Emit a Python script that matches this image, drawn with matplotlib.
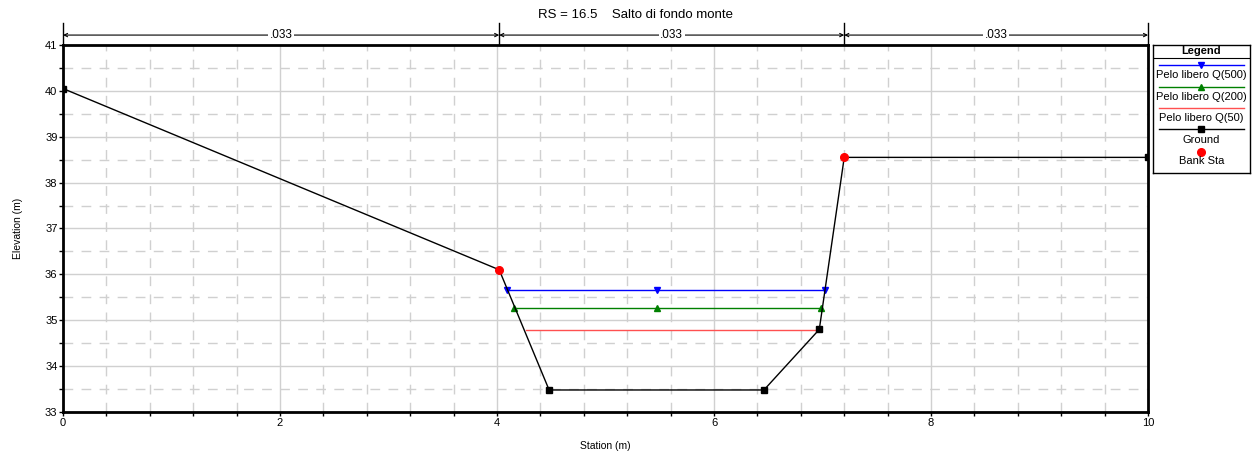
import numpy as np
import matplotlib.pyplot as plt
from matplotlib.lines import Line2D

plt.rcParams['font.family'] = ['Liberation Sans', 'DejaVu Sans']

# ground profile
ground_x = [0, 4.02, 4.48, 6.46, 6.97, 7.2, 10]
ground_y = [40.05, 36.10, 33.48, 33.48, 34.80, 38.55, 38.55]
bank_x = [4.02, 7.2]
bank_y = [36.10, 38.55]

# water surfaces
ws500_x = [4.09, 5.47, 7.02]
ws500_z = 35.67
ws200_x = [4.16, 5.47, 6.99]
ws200_z = 35.26
ws50_x = [4.27, 6.95]
ws50_z = 34.79

# manning n
n_edges = [0, 4.02, 7.2, 10]
n_vals = ['.033', '.033', '.033']

fig = plt.figure(figsize=(12.58, 4.59), dpi=100)
ax = fig.add_axes([0.0501, 0.1024, 0.8625, 0.7996])

gcol = '#d0d0d0'
ax.set_xlim(0, 10)
ax.set_ylim(33, 41)
ax.set_xticks(np.arange(0, 10.1, 2))
ax.set_xticks(np.arange(0, 10.01, 0.4), minor=True)
ax.set_yticks(np.arange(33, 41.1, 1))
ax.set_yticks(np.arange(33, 41.01, 0.5), minor=True)
ax.grid(which='major', color=gcol, lw=1, ls='-')
ax.grid(which='minor', color=gcol, lw=1, ls=(0, (7, 6)))
ax.set_axisbelow(True)
ax.tick_params(which='both', direction='out', labelsize=8, pad=1, width=1)
ax.tick_params(which='major', length=3)
ax.tick_params(which='minor', length=3)
for s in ax.spines.values():
    s.set_linewidth(2)

ax.plot(ws500_x, [ws500_z] * len(ws500_x), color='#0000ff', lw=1,
        marker='v', ms=3.8, zorder=3)
ax.plot(ws200_x, [ws200_z] * len(ws200_x), color='#008000', lw=1,
        marker='^', ms=3.8, zorder=3)
ax.plot(ws50_x, [ws50_z] * len(ws50_x), color='#ff5050', lw=1, zorder=3)
ax.plot(ground_x, ground_y, color='black', lw=1, marker='s', ms=4,
        markevery=[0, 2, 3, 4, 6], zorder=4)
ax.plot(bank_x, bank_y, 'o', color='red', ms=5.5, zorder=5)

ax.set_xlabel('Station (m)', fontsize=7.5, labelpad=10)
ax.set_ylabel('Elevation (m)', fontsize=7.5, labelpad=16)
fig.text(0.505, 0.968, 'RS = 16.5    Salto di fondo monte', ha='center',
         va='center', fontsize=9.5)

# n value bars above plot
trans = ax.get_xaxis_transform()
for xe in n_edges:
    ax.plot([xe, xe], [1.0, 1.06], color='black', lw=1, transform=trans,
            clip_on=False)
for i, v in enumerate(n_vals):
    x0, x1 = n_edges[i], n_edges[i + 1]
    ax.annotate('', xy=(x0, 1.027), xytext=(x1, 1.027), xycoords=trans,
                textcoords=trans,
                arrowprops=dict(arrowstyle='<->', lw=0.8, color='black',
                                shrinkA=0, shrinkB=0, mutation_scale=6))
    ax.text((x0 + x1) / 2, 1.027, v, transform=trans, ha='center',
            va='center', fontsize=8.5,
            bbox=dict(facecolor='white', edgecolor='none', pad=1))

# legend box
lax = fig.add_axes([0.9165, 0.623, 0.0771, 0.279])
lax.set_xlim(0, 1)
lax.set_ylim(0, 1)
lax.set_xticks([])
lax.set_yticks([])
for s in lax.spines.values():
    s.set_linewidth(1)
lax.text(0.5, 0.95, 'Legend', ha='center', va='center', fontsize=8,
         fontweight='bold')
lax.plot([0, 1], [0.9] * 2, color='black', lw=0.8)
entries = [
    ('Pelo libero Q(500)', '#0000ff', 'v', 0.847, 0.765),
    ('Pelo libero Q(200)', '#008000', '^', 0.675, 0.595),
    ('Pelo libero Q(50)', '#ff5050', None, 0.51, 0.43),
    ('Ground', 'black', 's', 0.345, 0.26),
]
for lab, c, m, yl, yt in entries:
    lax.add_line(Line2D([0.06, 0.94], [yl, yl], color=c, lw=1))
    if m:
        lax.plot([0.5], [yl], marker=m, color=c, ms=3.8)
    lax.text(0.5, yt, lab, ha='center', va='center', fontsize=8)
lax.plot([0.5], [0.165], 'o', color='red', ms=5.5)
lax.text(0.5, 0.095, 'Bank Sta', ha='center', va='center', fontsize=8)

fig.savefig('out.png', dpi=100)
